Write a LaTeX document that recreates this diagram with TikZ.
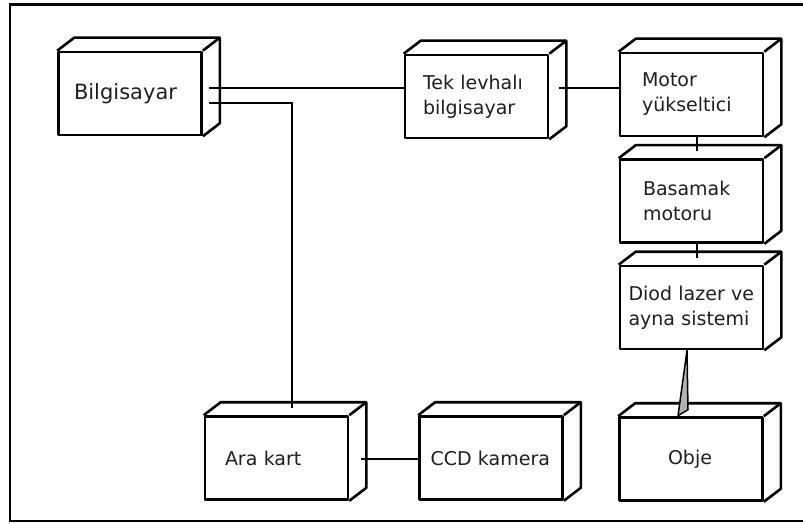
\documentclass[tikz,border=0pt]{standalone}
\usepackage{fontspec}
\setmainfont{DejaVu Sans}
\begin{document}
\begin{tikzpicture}[x=1pt,y=-1pt]
\tikzset{
  box/.style={draw, line width=2.6pt, line join=round, minimum width=143pt, minimum height=83pt,
    inner sep=0pt, align=left, font=\fontsize{19}{25}\selectfont, text=black!88},
  face/.style={line width=2.6pt, line join=round},
  conn/.style={line width=2.5pt},
  frame/.style={line width=2.6pt},
}
\useasboundingbox[fill=white] (0,0) rectangle (803,524);
\draw[frame] (806,4.5) -- (10,4.5) -- (10,521) -- (806,521);

\node[box, text width=112pt, font=\fontsize{21}{25}\selectfont] (bilg) at (130,93.5) {Bilgisayar};
\node[box, text width=107pt] (tek) at (476.5,96.5) {Tek levhalı\\bilgisayar};
\node[box, text width=99pt] (motor) at (691.5,94.5) {Motor\\yükseltici};
\node[box, text width=97pt] (basamak) at (691.5,201) {Basamak\\motoru};
\node[box, text width=126pt] (diod) at (691.5,307.5) {Diod lazer ve\\ayna sistemi};
\node[box, text width=46pt] (obje) at (691,459) {Obje};
\node[box, text width=103pt] (ara) at (276.5,458) {Ara kart};
\node[box, text width=121pt] (ccd) at (491,458) {CCD kamera};

\foreach \n in {bilg,tek,motor,basamak,diod,obje,ara,ccd}{
  \draw[face] (\n.north west) -- ++(17,-13) -- ([shift={(17,-13)}]\n.north east)
     -- ([shift={(17,-13)}]\n.south east) -- (\n.south east);
  \draw[face] (\n.north east) -- ++(17,-13);
}

\draw[conn] ([shift={(6,-5.5)}]bilg.east) -- ([shift={(0,-8.5)}]tek.west);
\draw[conn] ([shift={(6,9.5)}]bilg.east) -| ([shift={(15.5,-7.5)}]ara.north);
\draw[conn] ([shift={(10,-8.5)}]tek.east) -- ([shift={(0,-6.5)}]motor.west);
\draw[conn] ([xshift=5.5pt]motor.south) -- ([shift={(5.5,-7.5)}]basamak.north);
\draw[conn] ([xshift=5.5pt]basamak.south) -- ([shift={(5.5,-7)}]diod.north);
\draw[line width=1.5pt, line join=round, fill=gray!60] ([xshift=-4.5pt]diod.south)
   -- ([shift={(-13,-0.5)}]obje.north) -- ([shift={(-3,-6.5)}]obje.north) -- cycle;
\draw[conn] ([shift={(12,1)}]ara.east) -- ([shift={(0,1)}]ccd.west);
\end{tikzpicture}
\end{document}
